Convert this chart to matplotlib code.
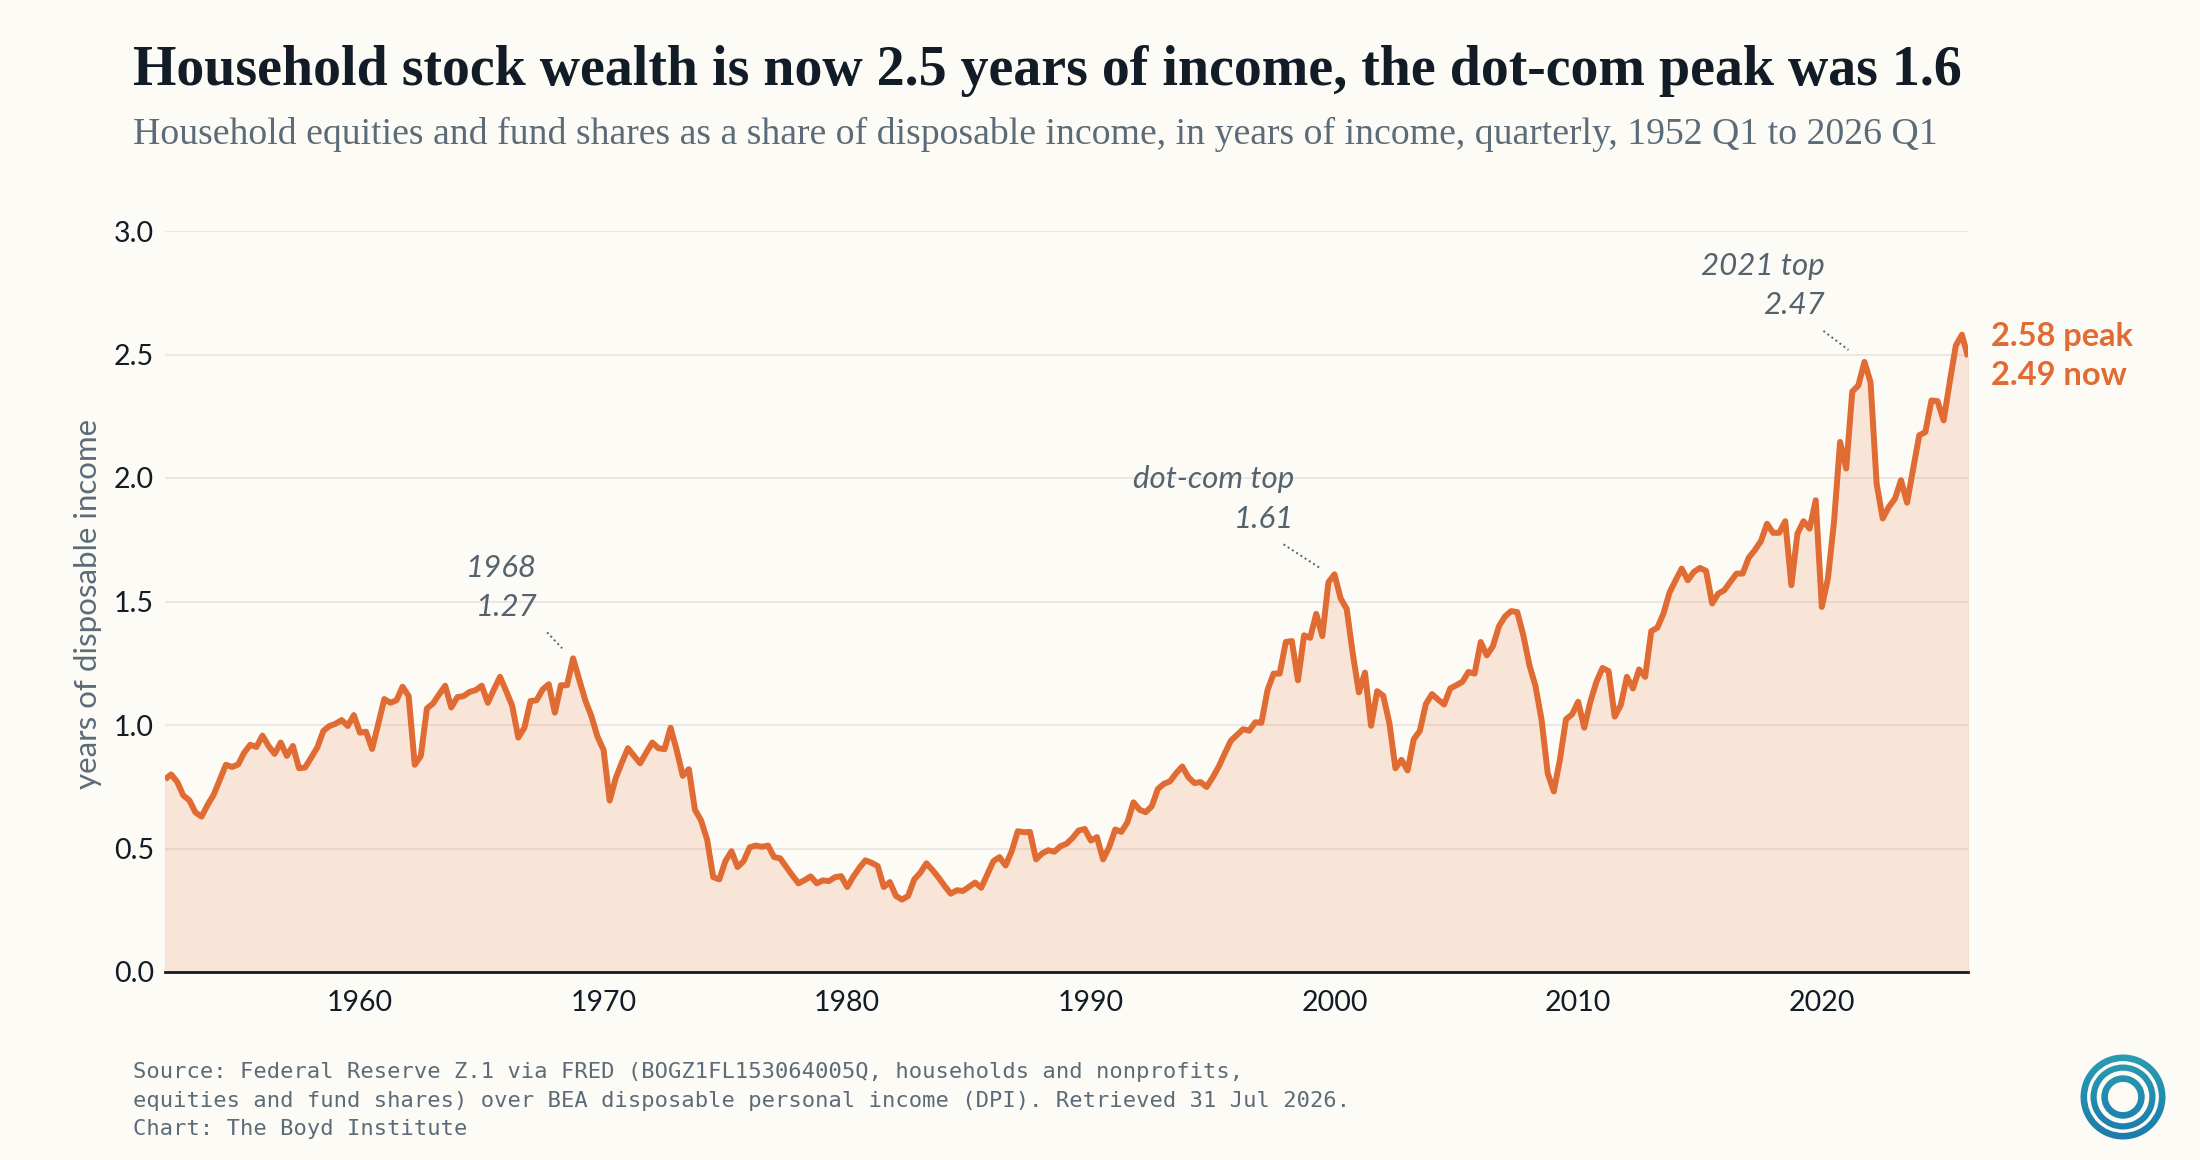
import matplotlib
matplotlib.use("Agg")
import matplotlib.pyplot as plt
import numpy as np
from matplotlib.patches import Wedge
from matplotlib.colors import LinearSegmentedColormap

# ---------------- data (quarterly, 1952 Q1 .. 2026 Q1) ----------------
start_year = 1952
vals_1950s = [0.78, 0.80, 0.77, 0.715, 0.695, 0.646, 0.629, 0.677,
              0.718, 0.778, 0.839, 0.83, 0.84, 0.888, 0.92, 0.911,
              0.957, 0.915, 0.883, 0.929, 0.875, 0.915, 0.825, 0.828,
              0.868, 0.909, 0.976, 0.996, 1.005, 1.02, 0.996, 1.04]
vals_1960s = [0.969, 0.973, 0.903, 1.003, 1.105, 1.09, 1.10, 1.155,
              1.117, 0.839, 0.875, 1.067, 1.087, 1.124, 1.159, 1.071,
              1.113, 1.117, 1.134, 1.141, 1.159, 1.09, 1.144, 1.195,
              1.138, 1.078, 0.949, 0.989, 1.097, 1.10, 1.144, 1.165,
              1.05, 1.161, 1.161, 1.27, 1.184, 1.10, 1.036, 0.953]
vals_1970s = [0.899, 0.694, 0.785, 0.848, 0.906, 0.875, 0.845, 0.888,
              0.929, 0.906, 0.902, 0.989, 0.899, 0.794, 0.821, 0.657,
              0.614, 0.536, 0.384, 0.375, 0.449, 0.489, 0.425, 0.449,
              0.505, 0.512, 0.507, 0.512, 0.465, 0.46, 0.425, 0.391,
              0.359, 0.372, 0.387, 0.359, 0.371, 0.368, 0.384, 0.388]
vals_1980s = [0.344, 0.386, 0.422, 0.452, 0.442, 0.429, 0.344, 0.364,
              0.308, 0.293, 0.308, 0.375, 0.402, 0.44, 0.413, 0.382,
              0.348, 0.317, 0.331, 0.328, 0.345, 0.362, 0.341, 0.395,
              0.449, 0.465, 0.431, 0.489, 0.57, 0.566, 0.567, 0.456,
              0.48, 0.493, 0.487, 0.509, 0.519, 0.543, 0.573, 0.579]
vals_1990s = [0.532, 0.546, 0.456, 0.505, 0.577, 0.567, 0.606, 0.687,
              0.657, 0.647, 0.671, 0.741, 0.762, 0.772, 0.805, 0.832,
              0.789, 0.765, 0.769, 0.749, 0.788, 0.832, 0.886, 0.937,
              0.96, 0.983, 0.977, 1.011, 1.009, 1.141, 1.208, 1.208,
              1.336, 1.34, 1.181, 1.363, 1.353, 1.45, 1.36, 1.578]
vals_2000s = [1.61, 1.513, 1.47, 1.289, 1.132, 1.212, 0.997, 1.137,
              1.118, 1.009, 0.825, 0.859, 0.816, 0.942, 0.976, 1.085,
              1.125, 1.103, 1.083, 1.148, 1.161, 1.175, 1.215, 1.208,
              1.336, 1.282, 1.319, 1.40, 1.44, 1.461, 1.457, 1.363,
              1.242, 1.157, 1.02, 0.805, 0.731, 0.859, 1.023, 1.043]
vals_2010s = [1.094, 0.989, 1.094, 1.175, 1.231, 1.218, 1.034, 1.081,
              1.195, 1.148, 1.225, 1.195, 1.38, 1.394, 1.451, 1.536,
              1.586, 1.633, 1.586, 1.62, 1.636, 1.624, 1.492, 1.532,
              1.546, 1.58, 1.613, 1.613, 1.677, 1.708, 1.744, 1.815,
              1.778, 1.778, 1.825, 1.566, 1.775, 1.825, 1.795, 1.91]
vals_2020s = [1.478, 1.593, 1.822, 2.146, 2.038, 2.35, 2.375, 2.47,
              2.388, 1.977, 1.836, 1.883, 1.916, 1.991, 1.90, 2.038,
              2.173, 2.186, 2.314, 2.311, 2.233, 2.388, 2.536, 2.58,
              2.49]

values = np.array(vals_1950s + vals_1960s + vals_1970s + vals_1980s +
                  vals_1990s + vals_2000s + vals_2010s + vals_2020s)
quarters = start_year + np.arange(len(values)) / 4.0

x_ticks = [1960, 1970, 1980, 1990, 2000, 2010, 2020]
y_ticks = [0.0, 0.5, 1.0, 1.5, 2.0, 2.5, 3.0]

# annotated tops: (label, year, quarter)
tops = [("1968", 1968, 4), ("dot-com top", 2000, 1), ("2021 top", 2021, 4)]

title = "Household stock wealth is now 2.5 years of income, the dot-com peak was 1.6"
subtitle = ("Household equities and fund shares as a share of disposable income, "
            "in years of income, quarterly, 1952 Q1 to 2026 Q1")
ylabel = "years of disposable income"
footer = ["Source: Federal Reserve Z.1 via FRED (BOGZ1FL153064005Q, households and nonprofits,",
          "equities and fund shares) over BEA disposable personal income (DPI). Retrieved 31 Jul 2026.",
          "Chart: The Boyd Institute"]

# ---------------- style ----------------
BG = "#FDFBF6"
ORANGE = "#E06B33"
DARK = "#111C26"
GREY = "#5B6B78"
ANN = "#55636F"
GRID = "#E8E6E0"
SANS = ["Lato", "DejaVu Sans"]
SERIF = ["Liberation Serif", "DejaVu Serif"]
MONO = ["DejaVu Sans Mono"]

W, H = 2200, 1160
fig = plt.figure(figsize=(W / 100, H / 100), dpi=100, facecolor=BG)

def fx(px):
    return px / W

def fy(py):
    return 1 - py / H

ax_l, ax_r, ax_t, ax_b = 165, 1968, 231, 972
ax = fig.add_axes([fx(ax_l), fy(ax_b), (ax_r - ax_l) / W, (ax_b - ax_t) / H])
ax.set_facecolor(BG)

ax.fill_between(quarters, 0, values, color=ORANGE, alpha=0.15, linewidth=0.8, zorder=2)
ax.plot(quarters, values, color=ORANGE, lw=4.3, solid_joinstyle="round",
        solid_capstyle="butt", zorder=3)

ax.set_xlim(1952, 2026)
ax.set_ylim(0, 3.0)
ax.set_xticks(x_ticks)
ax.set_xticklabels([str(t) for t in x_ticks])
ax.set_yticks(y_ticks)
ax.set_yticklabels([f"{t:.1f}" for t in y_ticks])
ax.tick_params(axis="both", length=0, labelsize=20.5, labelcolor=DARK)
ax.tick_params(axis="y", pad=8)
ax.tick_params(axis="x", pad=13)
for lab in ax.get_xticklabels() + ax.get_yticklabels():
    lab.set_family(SANS)
ax.set_axisbelow(True)
ax.yaxis.grid(True, color=GRID, lw=1.3, zorder=0)
for s in ["left", "right", "top"]:
    ax.spines[s].set_visible(False)
ax.spines["bottom"].set_color(DARK)
ax.spines["bottom"].set_linewidth(2.0)
ax.spines["bottom"].set_zorder(4)

# annotations for tops
layout = {  # text right offset, line1 dy, line2 dy, leader start, leader end (pixels)
    "1968": (-36, 90, 51, (-26, 26), (-11, 10)),
    "dot-com top": (-40, 95, 55, (-51, 30), (-14, 6)),
    "2021 top": (-40, 96, 57, (-41, 31), (-16, 12)),
}
for label, yr, q in tops:
    idx = (yr - start_year) * 4 + (q - 1)
    px, py = quarters[idx], values[idx]
    dx, dy1, dy2, ls, le = layout[label]
    for txt, dy in [(label, dy1), (f"{py:.2f}", dy2)]:
        ax.annotate(txt, xy=(px, py), xytext=(dx, dy), textcoords="offset pixels",
                    ha="right", va="center", fontsize=22.5, style="italic",
                    color=ANN, family=SANS, zorder=5)
    # dotted leader
    inv = ax.transData.inverted()
    base = ax.transData.transform((px, py))
    p0 = inv.transform((base[0] + ls[0], base[1] + ls[1]))
    p1 = inv.transform((base[0] + le[0], base[1] + le[1]))
    ax.plot([p0[0], p1[0]], [p0[1], p1[1]], color=ANN, lw=1.4,
            linestyle=(0, (1, 1.6)), zorder=5, solid_capstyle="round")

# end labels
peak_val = values.max()
now_val = values[-1]
ax.annotate(f"{peak_val:.2f} peak", xy=(quarters[-1], peak_val), xytext=(23, -2),
            textcoords="offset pixels", ha="left", va="center", fontsize=23.5,
            fontweight="bold", color=ORANGE, family=SANS, annotation_clip=False)
ax.annotate(f"{now_val:.2f} now", xy=(quarters[-1], peak_val), xytext=(23, -41),
            textcoords="offset pixels", ha="left", va="center", fontsize=23.5,
            fontweight="bold", color=ORANGE, family=SANS, annotation_clip=False)

# titles
fig.text(fx(133), fy(85), title, ha="left", va="baseline", fontsize=40.2,
         fontweight="bold", color=DARK, family=SERIF)
fig.text(fx(133), fy(144), subtitle, ha="left", va="baseline", fontsize=27.2,
         color=GREY, family=SERIF)

# y label
fig.text(fx(88), fy(604), ylabel, rotation=90, ha="center", va="center",
         fontsize=22.5, color=GREY, family=SANS)

# footer
for i, line in enumerate(footer):
    fig.text(fx(133), fy(1078 + 28.6 * i), line, ha="left", va="baseline",
             fontsize=15.9, color=GREY, family=MONO)

# logo: three concentric rings with a teal gradient
lc_x, lc_y, half = 2123, 1097, 50
lax = fig.add_axes([fx(lc_x - half), fy(lc_y + half), 2 * half / W, 2 * half / H])
lax.set_xlim(-half, half)
lax.set_ylim(-half, half)
lax.axis("off")
cmap = LinearSegmentedColormap.from_list("logo", ["#1A78AD", "#2BA0B2"])
grad = np.linspace(0, 1, 256).reshape(-1, 1)
for r_out, w in [(42.5, 6.6), (32.5, 6.2), (21.7, 6.6)]:
    ring = Wedge((0, 0), r_out, 0, 360, width=w, transform=lax.transData,
                 facecolor="none", edgecolor="none")
    lax.add_patch(ring)
    im = lax.imshow(grad, extent=[-half, half, -half, half], origin="lower",
                    cmap=cmap, aspect="auto", interpolation="bilinear")
    im.set_clip_path(ring)

fig.savefig("out.png", dpi=100, facecolor=BG)
